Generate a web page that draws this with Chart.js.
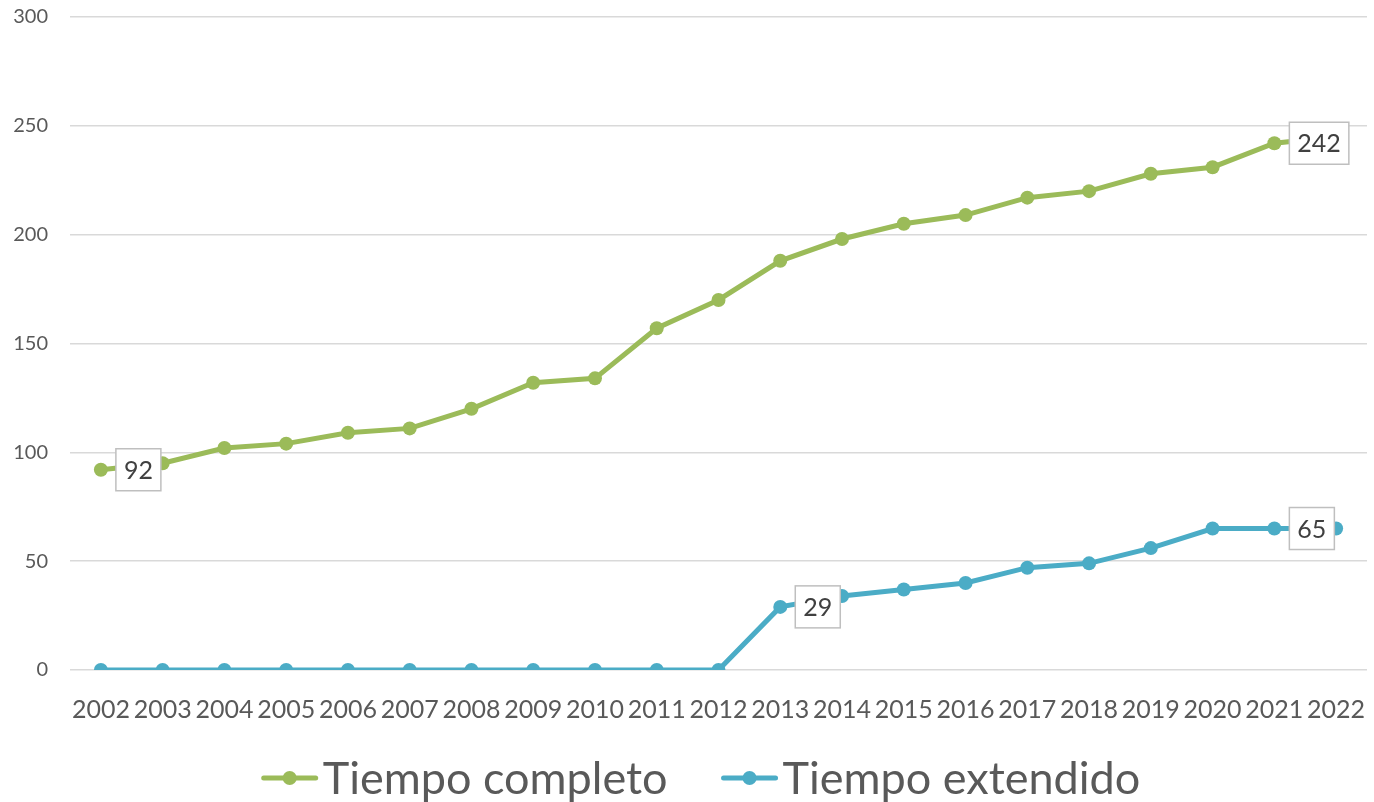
<!DOCTYPE html>
<html>
<head>
<meta charset="utf-8">
<script src="https://cdn.jsdelivr.net/npm/chart.js@4"></script>
<style>
  html, body { margin: 0; padding: 0; background: #fff; }
  #wrap { width: 1374px; height: 802px; }
</style>
</head>
<body>
<div id="wrap"><canvas id="myChart" width="1374" height="802"></canvas></div>
<script>
const years = ["2002","2003","2004","2005","2006","2007","2008","2009","2010","2011","2012",
  "2013","2014","2015","2016","2017","2018","2019","2020","2021","2022"];
const tiempoCompleto = [92,95,102,104,109,111,120,132,134,157,170,188,198,205,209,217,220,228,231,242,245];
const tiempoExtendido = [0,0,0,0,0,0,0,0,0,0,0,29,34,37,40,47,49,56,65,65,65];
const yTicks = [0,50,100,150,200,250,300];
// which points carry a boxed value label: [dataset, index]
const labeledPoints = [[0,0],[0,19],[1,11],[1,19]];

const green = "#9BBB59";
const blue = "#4BACC6";
const textGray = "#595959";

// boxed data labels
const boxLabels = {
  id: "boxLabels",
  afterDatasetsDraw(chart) {
    const ctx = chart.ctx;
    ctx.save();
    ctx.font = "25px Lato";
    ctx.textBaseline = "middle";
    labeledPoints.forEach(([d, i]) => {
      const pt = chart.getDatasetMeta(d).data[i];
      const txt = String(chart.data.datasets[d].data[i]);
      const w = ctx.measureText(txt).width + 16;
      const h = 42;
      const x = pt.x + 15;
      const y = pt.y - h / 2;
      ctx.fillStyle = "#fff";
      ctx.fillRect(x, y, w, h);
      ctx.strokeStyle = "#bfbfbf";
      ctx.lineWidth = 1.5;
      ctx.strokeRect(x, y, w, h);
      ctx.fillStyle = "#404040";
      ctx.fillText(txt, x + 8, pt.y + 1);
    });
    ctx.restore();
  }
};

// legend: line with dot + label, centered below the axis
const lineLegend = {
  id: "lineLegend",
  afterDraw(chart) {
    const ctx = chart.ctx;
    const items = chart.data.datasets.map(ds => ({ text: ds.label, color: ds.borderColor }));
    ctx.save();
    ctx.font = "45px Lato";
    ctx.textBaseline = "middle";
    const iconW = 56, gapText = 5, gapItem = 54;
    const widths = items.map(it => iconW + gapText + ctx.measureText(it.text).width);
    const total = widths.reduce((a, b) => a + b, 0) + gapItem * (items.length - 1);
    let x = chart.width / 2 + 14 - total / 2;
    const y = chart.height - 24;
    items.forEach((it, k) => {
      ctx.strokeStyle = it.color;
      ctx.lineWidth = 5;
      ctx.lineCap = "round";
      ctx.beginPath(); ctx.moveTo(x + 2, y); ctx.lineTo(x + iconW - 2, y); ctx.stroke();
      ctx.fillStyle = it.color;
      ctx.beginPath(); ctx.arc(x + iconW / 2, y, 7, 0, Math.PI * 2); ctx.fill();
      ctx.fillStyle = textGray;
      ctx.fillText(it.text, x + iconW + gapText, y + 1);
      x += widths[k] + gapItem;
    });
    ctx.restore();
  }
};

const data = {
  labels: years,
  datasets: [
    {
      label: "Tiempo completo",
      data: tiempoCompleto,
      borderColor: green,
      backgroundColor: green,
      borderWidth: 5,
      pointRadius: 7,
      pointHoverRadius: 7,
      pointBorderWidth: 0,
      tension: 0,
    },
    {
      label: "Tiempo extendido",
      data: tiempoExtendido,
      borderColor: blue,
      backgroundColor: blue,
      borderWidth: 5,
      pointRadius: 7,
      pointHoverRadius: 7,
      pointBorderWidth: 0,
      tension: 0,
    },
  ],
};

const config = {
  type: "line",
  data,
  options: {
    responsive: false,
    animation: false,
    layout: { padding: { top: 17, right: 3, left: 0, bottom: 70 } },
    plugins: {
      tooltip: { enabled: false },
      legend: { display: false },
    },
    scales: {
      x: {
        offset: true,
        grid: { display: false },
        border: { display: false },
        ticks: {
          color: textGray,
          font: { family: "Lato", size: 25 },
          maxRotation: 0,
          autoSkip: false,
          padding: 17,
        },
        afterFit(scale) {
          scale.height = 62;
          scale.paddingLeft = 0;
          scale.paddingRight = 0;
        },
      },
      y: {
        min: 0,
        max: 300,
        afterBuildTicks(scale) { scale.ticks = yTicks.map(v => ({ value: v })); },
        grid: { color: "#d9d9d9", lineWidth: 1.5, drawTicks: false },
        border: { display: false },
        ticks: {
          color: textGray,
          font: { family: "Lato", size: 20 },
          padding: 22,
        },
        afterFit(scale) {
          scale.width = 70;
          scale.paddingTop = 0;
          scale.paddingBottom = 0;
        },
      },
    },
  },
  plugins: [boxLabels, lineLegend],
};

new Chart(document.getElementById("myChart"), config);
</script>
</body>
</html>
